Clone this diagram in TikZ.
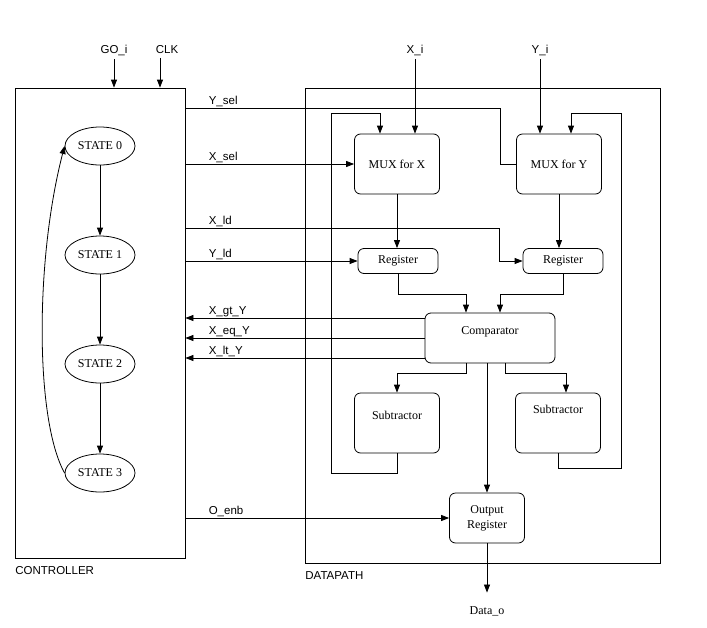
\documentclass[tikz,border=0pt]{standalone}
\usepackage{fontspec}
\setmainfont{Liberation Serif}
\setsansfont{Liberation Sans}
\usetikzlibrary{shapes.geometric,arrows.meta}

\begin{document}
\begin{tikzpicture}[x=1pt,y=-1pt,line width=0.8pt,
	font=\fontsize{12}{15}\selectfont,
	>={Triangle[length=8pt,width=6pt]},
	blk/.style={draw,rounded corners=6pt,minimum width=85pt,minimum height=60pt,align=center},
	reg/.style={blk,minimum width=80pt,minimum height=25pt},
	sig/.style={font=\sffamily\fontsize{11.5}{13}\selectfont},
	lbl/.style={sig,above right,inner sep=1pt,xshift=22pt}]
	\useasboundingbox (0,0) rectangle (707,627);
	% controller and datapath frames
	\node[draw,minimum width=170pt,minimum height=470pt] (ctrl) at (100,323) {};
	\node[draw,minimum width=355pt,minimum height=475pt] (dp) at (482.5,325.5) {};
	\node[sig,anchor=north west,inner sep=0pt] (ctrlname) at (15,566) {CONTROLLER};
	\node[sig,anchor=north west,inner sep=0pt] (dpname) at (305,571) {DATAPATH};
	% states
	\begin{scope}[every node/.style={ellipse,draw,minimum width=70pt,minimum height=38pt,inner sep=1pt}]
	\node (st0) at (100,146) {STATE 0};
	\node (st1) at (100,255) {STATE 1};
	\node (st2) at (100,364) {STATE 2};
	\node (st3) at (100,473) {STATE 3};
	\end{scope}
	\begin{scope}[every edge/.style={draw,->}]
	\path (st0) edge (st1);
	\path (st1) edge (st2);
	\path (st2) edge (st3);
	\end{scope}
	\draw[->] (st3.west) .. controls (35,420) and (35,260) .. (st0.west);
	% inputs
	\node[sig] (go) at (114,50) {GO\_i};
	\node[sig] (clk) at (167,50) {CLK};
	\draw[->] (go) -- (go |- ctrl.north);
	\draw[->] ([xshift=-7pt]clk.south) -- ([xshift=-7pt]clk.south |- ctrl.north);
	\node[sig] (xi) at (415,50) {X\_i};
	\node[sig] (yi) at (540,50) {Y\_i};
	% datapath blocks
	\node[blk] (mx) at (397,164) {MUX for X};
	\node[blk] (my) at (559,164) {MUX for Y};
	\node[reg] (r1) at (398,261) {Register};
	\node[reg] (r2) at (563,261) {Register};
	\node[blk,minimum width=130pt,minimum height=50pt,label={[yshift=-28pt]north:Comparator}] (cmp) at (490,338) {};
	\node[blk,label={[yshift=-31pt]north:Subtractor}] (sub1) at (397,423) {};
	\node[blk,label={[yshift=-25pt]north:Subtractor}] (sub2) at (558,423) {};
	\node[blk,minimum width=75pt,minimum height=50pt] (oreg) at (487,518) {Output\\Register};
	\node (data) at (487,611) {Data\_o};
	% datapath wires
	\draw[->] (xi) -- (xi |- mx.north);
	\draw[->] (yi) -- (yi |- my.north);
	\draw[->] (mx.south) -- (mx.south |- r1.north);
	\draw[->] (my.south) -- (my.south |- r2.north);
	\draw[->] (r1.south) -- ++(0,20) -| ([xshift=-24pt]cmp.north);
	\draw[->] (r2.south) -- ++(0,20) -| ([xshift=10pt]cmp.north);
	\draw[->] ([xshift=-24pt]cmp.south) -- ++(0,10) -| (sub1.north);
	\draw[->] ([xshift=15pt]cmp.south) -- ++(0,10) -| ([xshift=8pt]sub2.north);
	\draw[->] (cmp.south -| oreg.north) -- (oreg.north);
	\draw[->] (oreg.south) -- ([yshift=10pt]data.north);
	\draw[->] (sub1.south) -- ++(0,20) -| (331,113) -| ([xshift=-17pt]mx.north);
	\draw[->] (sub2.south) -- ++(0,15) -| (621,113) -| ([xshift=12pt]my.north);
	% control signals
	\draw (ctrl.east |- 0,108) node[lbl] {Y\_sel} -| ([xshift=-16pt]my.west) -- (my.west);
	\draw[->] (ctrl.east |- mx.west) node[lbl] {X\_sel} -- (mx.west);
	\draw[->] (ctrl.east |- 0,228) node[lbl] {X\_ld} -| ([xshift=-23pt]r2.west) -- (r2.west);
	\draw[->] (ctrl.east |- r1.west) node[lbl] {Y\_ld} -- (r1.west);
	\draw[->] (ctrl.east |- oreg.west) node[lbl] {O\_enb} -- (oreg.west);
	% status signals
	\coordinate (gt) at ([yshift=20pt]cmp.west);
	\coordinate (lt) at ([yshift=-20pt]cmp.west);
	\draw[<-] (ctrl.east |- gt) node[lbl] {X\_gt\_Y} -- (gt);
	\draw[<-] (ctrl.east |- cmp.west) node[lbl] {X\_eq\_Y} -- (cmp.west);
	\draw[<-] (ctrl.east |- lt) node[lbl] {X\_lt\_Y} -- (lt);
\end{tikzpicture}
\end{document}
